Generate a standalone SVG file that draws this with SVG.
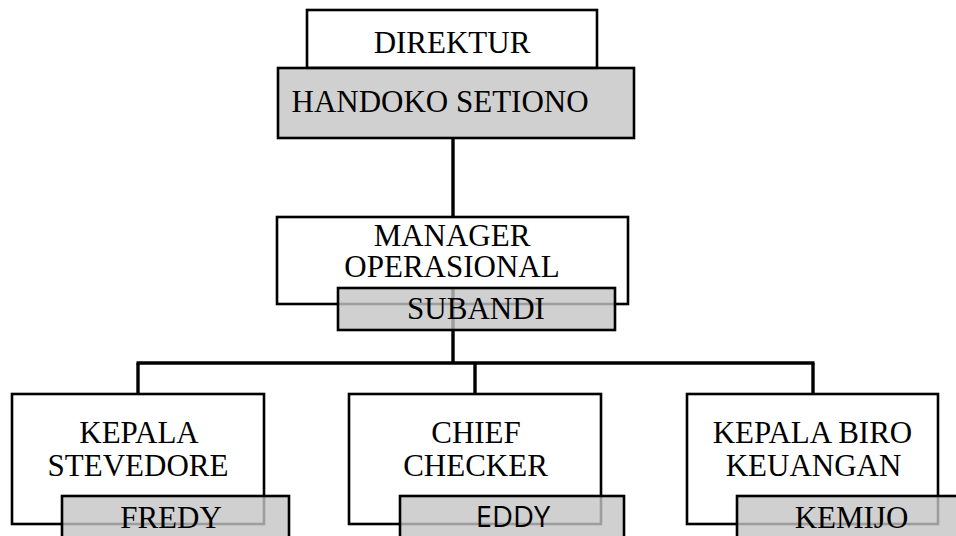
<svg xmlns="http://www.w3.org/2000/svg" width="956" height="536" viewBox="0 0 956 536">
<style>
.box{fill:none;stroke:#000;stroke-width:2.6}
.name{fill:#c4c4c4;fill-opacity:0.8;stroke:#000;stroke-width:2.6}
.t{font-family:"Liberation Serif","Times New Roman",serif;font-size:31px;fill:#000}
.m{text-anchor:middle}
.s{font-family:"Open Sans","Liberation Sans",sans-serif;font-size:29px;fill:#000;text-anchor:middle}
.c{fill:none;stroke:#000;stroke-width:3.4}
</style>
<rect width="956" height="536" fill="#fff"/>
<g id="connectors">
<line class="c" x1="453" y1="138" x2="453" y2="217"/>
<line class="c" x1="453" y1="288" x2="453" y2="363"/>
<line class="c" x1="136.5" y1="363" x2="814.5" y2="363"/>
<line class="c" x1="138" y1="363" x2="138" y2="394"/>
<line class="c" x1="475" y1="363" x2="475" y2="394"/>
<line class="c" x1="813" y1="363" x2="813" y2="394"/>
</g>
<g id="direktur">
<rect class="box" x="307" y="10" width="290" height="58" fill="#fff"/>
<rect class="name" x="278" y="68" width="356" height="70"/>
<text class="t m" x="452" y="53">DIREKTUR</text>
<text class="t" x="291.5" y="112">HANDOKO SETIONO</text>
</g>
<g id="manager">
<rect class="box" x="277" y="217" width="351" height="87"/>
<rect class="name" x="338" y="288" width="277" height="42"/>
<text class="t m" x="452" y="246">MANAGER</text>
<text class="t m" x="452" y="277">OPERASIONAL</text>
<text class="t m" x="476" y="319">SUBANDI</text>
</g>
<g id="stevedore">
<rect class="box" x="12" y="394" width="252" height="130"/>
<rect class="name" x="62" y="496" width="227" height="50"/>
<text class="t m" x="139" y="443">KEPALA</text>
<text class="t m" x="138" y="476">STEVEDORE</text>
<text class="t m" x="171" y="528">FREDY</text>
</g>
<g id="checker">
<rect class="box" x="349" y="394" width="252" height="130"/>
<rect class="name" x="400" y="496" width="224" height="50"/>
<text class="t m" x="476" y="443">CHIEF</text>
<text class="t m" x="475.5" y="476">CHECKER</text>
<text class="s" x="513" y="527">EDDY</text>
</g>
<g id="keuangan">
<rect class="box" x="687" y="394" width="251" height="130"/>
<rect class="name" x="737" y="496" width="230" height="50"/>
<text class="t m" x="812.5" y="443">KEPALA BIRO</text>
<text class="t m" x="813.5" y="476">KEUANGAN</text>
<text class="t m" x="851.5" y="528">KEMIJO</text>
</g>
</svg>
